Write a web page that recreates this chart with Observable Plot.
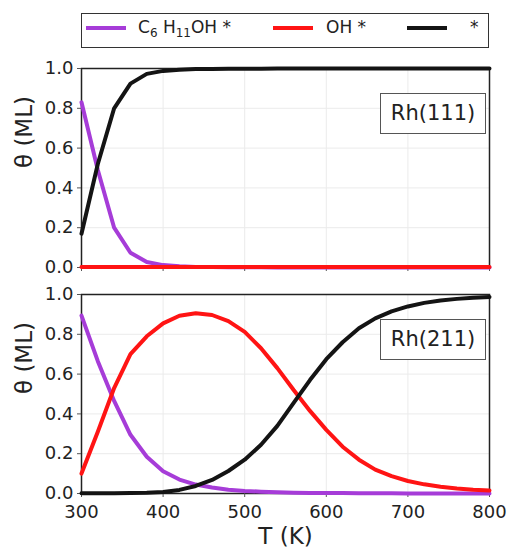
<!DOCTYPE html>
<html>
<head>
<meta charset="utf-8">
<script src="https://cdn.jsdelivr.net/npm/d3@7"></script>
<script src="https://cdn.jsdelivr.net/npm/@observablehq/plot@0.6"></script>
<style>
  html, body { margin: 0; padding: 0; background: #fff; }
  #wrap { position: relative; width: 509px; height: 547px; font-family: "DejaVu Sans", sans-serif; color: #222; }
  #wrap svg { position: absolute; left: 0; }
  .legend { position: absolute; left: 81px; top: 13px; width: 408px; height: 35px; box-sizing: border-box; border: 1.5px solid #333; background: #fff; }
  .lline { position: absolute; top: 12px; width: 40px; height: 4px; }
  .ltext { position: absolute; top: 5px; font-size: 17px; line-height: 17px; white-space: nowrap; }
  .ltext sub { font-size: 12px; vertical-align: -4px; line-height: 0; }
  .rh { position: absolute; box-sizing: border-box; border: 1.5px solid #555; background: #fff; font-size: 21px; text-align: center; }
</style>
</head>
<body>
<div id="wrap"></div>
<script>
// ---- data ----
const T = [300, 320, 340, 360, 380, 400, 420, 440, 460, 480, 500, 520, 540, 560, 580, 600, 620, 640, 660, 680, 700, 720, 740, 760, 780, 800];
const speciesNames = ["C6H11OH*", "OH*", "*"];
const speciesColors = ["#a63cd8", "#ff1414", "#141414"];
const panelNames = ["Rh(111)", "Rh(211)"];

// Rh(111)
const rh111_C6H11OH = [0.83, 0.49, 0.2, 0.074, 0.028, 0.012, 0.006, 0.003, 0.002, 0.001, 0.001, 0.001, 0, 0, 0, 0, 0, 0, 0, 0, 0, 0, 0, 0, 0, 0];
const rh111_OH = [0.002, 0.002, 0.002, 0.002, 0.002, 0.002, 0.002, 0.002, 0.002, 0.002, 0.002, 0.002, 0.002, 0.002, 0.002, 0.002, 0.002, 0.002, 0.002, 0.002, 0.002, 0.002, 0.002, 0.002, 0.002, 0.002];
const rh111_free = [0.17, 0.52, 0.80, 0.924, 0.973, 0.988, 0.994, 0.997, 0.998, 0.999, 0.999, 0.999, 1, 1, 1, 1, 1, 1, 1, 1, 1, 1, 1, 1, 1, 1];

// Rh(211)
const rh211_C6H11OH = [0.894, 0.665, 0.465, 0.295, 0.185, 0.112, 0.07, 0.045, 0.03, 0.019, 0.013, 0.009, 0.006, 0.004, 0.003, 0.002, 0.002, 0.001, 0.001, 0.001, 0, 0, 0, 0, 0, 0];
const rh211_OH = [0.10, 0.31, 0.53, 0.70, 0.79, 0.855, 0.893, 0.906, 0.897, 0.866, 0.812, 0.73, 0.63, 0.52, 0.415, 0.32, 0.235, 0.17, 0.12, 0.087, 0.063, 0.046, 0.034, 0.025, 0.019, 0.015];
const rh211_free = [0.001, 0.001, 0.001, 0.002, 0.004, 0.008, 0.018, 0.038, 0.068, 0.113, 0.17, 0.245, 0.34, 0.455, 0.57, 0.675, 0.76, 0.83, 0.88, 0.915, 0.94, 0.958, 0.970, 0.978, 0.984, 0.988];

const xTicks = [300, 400, 500, 600, 700, 800];
const yTicks = [0, 0.2, 0.4, 0.6, 0.8, 1.0];

// ---- drawing ----
const wrap = document.getElementById("wrap");

function panel(series, opts) {
  const marks = [
    Plot.gridX(xTicks, {stroke: "#ebebeb", strokeOpacity: 1, strokeWidth: 1}),
    Plot.gridY(yTicks, {stroke: "#ebebeb", strokeOpacity: 1, strokeWidth: 1}),
    Plot.frame({stroke: "#222", strokeWidth: 1.5}),
    Plot.axisX(xTicks, {tickSize: 4, tickPadding: 8, stroke: "#555", fontSize: 18,
      tickFormat: opts.showX ? (d => String(d)) : (() => ""), label: null}),
    Plot.axisY(yTicks, {tickSize: 4, tickPadding: 4, stroke: "#555", fontSize: 18,
      tickFormat: d3.format(".1f"), label: null}),
    ...series.map((vals, i) => Plot.lineY(vals, {x: T, stroke: speciesColors[i], strokeWidth: 4})),
    Plot.text(["θ (ML)"], {text: d => d, frameAnchor: "left", rotate: -90, dx: -57, fontSize: 23, fill: "#222"})
  ];
  if (opts.showX) {
    marks.push(Plot.text(["T (K)"], {text: d => d, frameAnchor: "bottom", dy: 50, fontSize: 23, fill: "#222"}));
  }
  const svg = Plot.plot({
    width: 509,
    height: opts.height,
    marginLeft: 81,
    marginRight: 20,
    marginTop: opts.marginTop,
    marginBottom: opts.marginBottom,
    x: {domain: [300, 800]},
    y: {domain: [0, 1]},
    style: {fontFamily: "DejaVu Sans", fontSize: "18px", color: "#222", background: "transparent", overflow: "visible"},
    marks
  });
  svg.style.top = opts.top + "px";
  wrap.appendChild(svg);
}

panel([rh111_C6H11OH, rh111_OH, rh111_free], {top: 55, height: 230, marginTop: 13, marginBottom: 18, showX: false});
panel([rh211_C6H11OH, rh211_OH, rh211_free], {top: 285, height: 262, marginTop: 9, marginBottom: 54, showX: true});

// panel labels
const boxes = [
  {name: panelNames[0], left: 380, top: 93, width: 106, height: 41},
  {name: panelNames[1], left: 380, top: 319, width: 106, height: 41}
];
for (const b of boxes) {
  const d = document.createElement("div");
  d.className = "rh";
  d.style.left = b.left + "px";
  d.style.top = b.top + "px";
  d.style.width = b.width + "px";
  d.style.height = b.height + "px";
  d.style.lineHeight = (b.height - 3) + "px";
  d.textContent = b.name;
  wrap.appendChild(d);
}

// legend
const legend = document.createElement("div");
legend.className = "legend";
const legendLabels = ["C<sub>6</sub> H<sub>11</sub>OH *", "OH *", "*"];
const lineLefts = [4, 191, 325];
const textLefts = [56, 244, 388];
speciesNames.forEach((s, i) => {
  const l = document.createElement("div");
  l.className = "lline";
  l.style.left = lineLefts[i] + "px";
  l.style.background = speciesColors[i];
  legend.appendChild(l);
  const t = document.createElement("div");
  t.className = "ltext";
  t.style.left = textLefts[i] + "px";
  t.innerHTML = legendLabels[i];
  legend.appendChild(t);
});
wrap.appendChild(legend);
</script>
</body>
</html>
